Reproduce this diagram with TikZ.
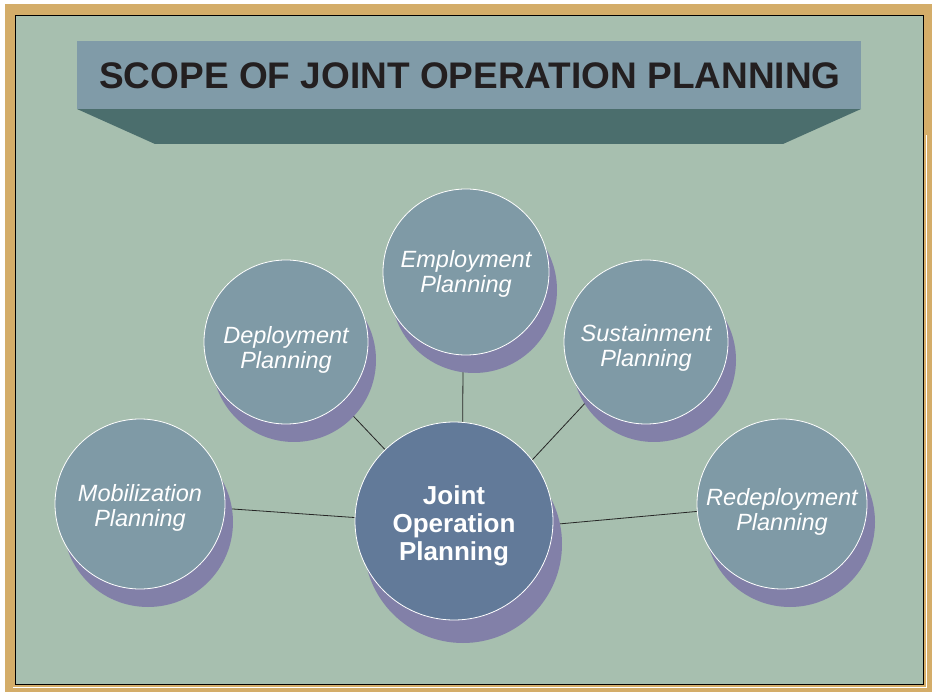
\documentclass[tikz,border=0pt]{standalone}
\usepackage{fontspec}
\setmainfont{Liberation Sans}
\usetikzlibrary{shadows}
\definecolor{tan}{HTML}{D4AD69}
\definecolor{bggreen}{HTML}{A7BFAF}
\definecolor{banner}{HTML}{809BA8}
\definecolor{bannershade}{HTML}{4B6E6D}
\definecolor{circfill}{HTML}{7F9AA6}
\definecolor{centerfill}{HTML}{627A99}
\definecolor{shadowcol}{HTML}{8280A8}
\definecolor{titletext}{HTML}{231F20}
\pgfdeclarelayer{bglayer}
\pgfdeclarelayer{links}
\pgfsetlayers{bglayer,links,main}
\begin{document}
\begin{tikzpicture}[x=1pt,y=-1pt,
  outer/.style={circle, fill=circfill, draw=white, line width=0.8pt, inner sep=0pt,
    general shadow={fill=shadowcol, shadow xshift=8pt, shadow yshift=-18pt}},
  hub/.style={circle, fill=centerfill, draw=white, line width=0.8pt, inner sep=0pt,
    general shadow={fill=shadowcol, shadow xshift=9pt, shadow yshift=-23pt}},
  circtext/.style={text=white, align=center, inner sep=0pt, font=\fontsize{23.5}{25}\selectfont\itshape},
  hubtext/.style={text=white, align=center, inner sep=0pt, font=\fontsize{26}{28}\selectfont\bfseries},
  link/.style={draw=black!85, line width=0.8pt},
  titlestyle/.style={text=titletext, font=\fontsize{37}{40}\selectfont\bfseries, inner sep=0pt}
]
\useasboundingbox (0,0) rectangle (932,692);
\begin{pgfonlayer}{bglayer}
  \fill[white] (0,0) rectangle (932,692);
  \fill[tan] (5,4) rectangle (932,692);
  \fill[bggreen] (15,15) rectangle (923,684);
  \draw[black, line width=0.9pt] (15,15) rectangle (923,684);
  \draw[white, line width=0.9pt] (13,687) -- (926,687) -- (926,135);
  \fill[bannershade] (77,109) -- (861,109) -- (783,144) -- (155,144) -- cycle;
  \fill[banner] (77,41) rectangle (861,109);
\end{pgfonlayer}
\node[titlestyle] (title) at (470,76) {SCOPE OF JOINT OPERATION PLANNING};

\node[hub, minimum size=198pt] (jop) at (454,521) {};
\node[outer, minimum size=166pt] (emp) at (466,272) {};
\node[outer, minimum size=164pt] (dep) at (286,342) {};
\node[outer, minimum size=164pt] (sus) at (646,342) {};
\node[outer, minimum size=170pt] (mob) at (140,504) {};
\node[outer, minimum size=170pt] (red) at (782,504) {};

\node[hubtext] (jopt) at ([yshift=-5pt]jop.center) {Joint\\Operation\\Planning};
\node[circtext] (empt) at ([yshift=-2pt]emp.center) {Employment\\Planning};
\node[circtext] (dept) at ([yshift=-8pt]dep.center) {Deployment\\Planning};
\node[circtext] (sust) at ([yshift=-6pt]sus.center) {Sustainment\\Planning};
\node[circtext] (mobt) at ([yshift=-4pt]mob.center) {Mobilization\\Planning};
\node[circtext] (redt) at ([yshift=-8pt]red.center) {Redeployment\\Planning};

\begin{pgfonlayer}{links}
  \draw[link] (jop.85) -- (emp.268);
  \draw[link] (jop.134) -- (dep.312);
  \draw[link] (jop.38) -- (sus.225);
  \draw[link] (jop.178) -- (mob.-3);
  \draw[link] (jop.-2) -- (red.185);
\end{pgfonlayer}
\end{tikzpicture}
\end{document}
